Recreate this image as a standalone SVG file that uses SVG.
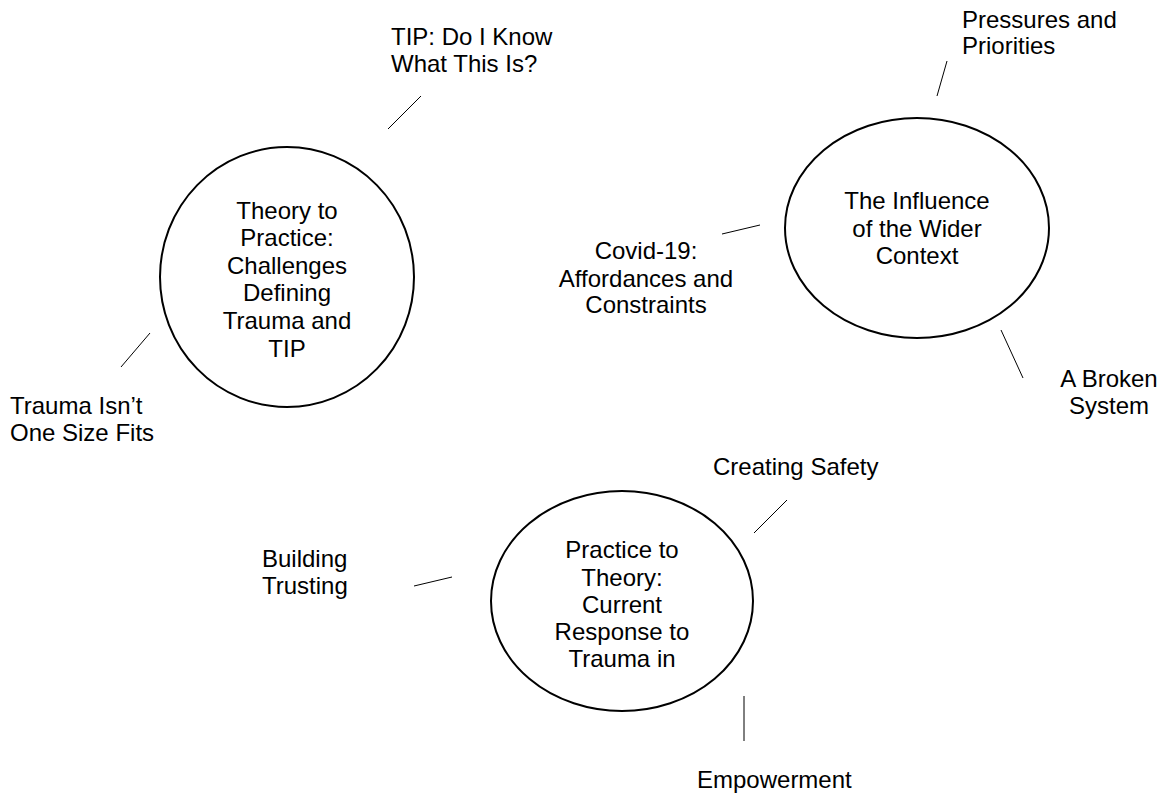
<svg xmlns="http://www.w3.org/2000/svg" width="1165" height="799" viewBox="0 0 1165 799">
  <style>
    .node { fill: #ffffff; stroke: #000000; stroke-width: 2; }
    .conn { stroke: #000000; stroke-width: 1; fill: none; }
    text { font-family: "Liberation Sans", Arial, sans-serif; font-size: 24px; fill: #000000; }
    .mid { text-anchor: middle; }
  </style>
  <rect width="1165" height="799" fill="#ffffff"/>

  <!-- short spokes between each theme and its sub-themes -->
  <g id="connectors">
    <line class="conn" x1="421" y1="96" x2="388" y2="129"/>
    <line class="conn" x1="150" y1="333" x2="121" y2="367"/>
    <line class="conn" x1="947" y1="61" x2="937" y2="96"/>
    <line class="conn" x1="760" y1="225" x2="722" y2="234"/>
    <line class="conn" x1="1001" y1="330" x2="1023" y2="378"/>
    <line class="conn" x1="787" y1="500" x2="754" y2="533"/>
    <line class="conn" x1="452" y1="577" x2="414" y2="586"/>
    <line class="conn" x1="744" y1="696" x2="744" y2="741"/>
  </g>

  <!-- main themes -->
  <g id="theme-theory-to-practice">
    <ellipse class="node" cx="287" cy="277" rx="127" ry="130"/>
    <text class="mid" x="287" y="219">Theory to</text>
    <text class="mid" x="287" y="246">Practice:</text>
    <text class="mid" x="287" y="274">Challenges</text>
    <text class="mid" x="287" y="301">Defining</text>
    <text class="mid" x="287" y="329">Trauma and</text>
    <text class="mid" x="287" y="357">TIP</text>
  </g>

  <g id="theme-wider-context">
    <ellipse class="node" cx="917" cy="228" rx="132" ry="110"/>
    <text class="mid" x="917" y="209">The Influence</text>
    <text class="mid" x="917" y="237">of the Wider</text>
    <text class="mid" x="917" y="264">Context</text>
  </g>

  <g id="theme-practice-to-theory">
    <ellipse class="node" cx="622" cy="601" rx="131" ry="110"/>
    <text class="mid" x="622" y="558">Practice to</text>
    <text class="mid" x="622" y="586">Theory:</text>
    <text class="mid" x="622" y="613">Current</text>
    <text class="mid" x="622" y="640">Response to</text>
    <text class="mid" x="622" y="667">Trauma in</text>
  </g>

  <!-- sub-themes -->
  <g id="sub-tip-know">
    <text x="391" y="45">TIP: Do I Know</text>
    <text x="391" y="72">What This Is?</text>
  </g>
  <g id="sub-one-size">
    <text x="10" y="414">Trauma Isn’t</text>
    <text x="10" y="441">One Size Fits</text>
  </g>
  <g id="sub-pressures">
    <text x="962" y="28">Pressures and</text>
    <text x="962" y="54">Priorities</text>
  </g>
  <g id="sub-covid">
    <text class="mid" x="646" y="259">Covid-19:</text>
    <text class="mid" x="646" y="287">Affordances and</text>
    <text class="mid" x="646" y="313">Constraints</text>
  </g>
  <g id="sub-broken-system">
    <text class="mid" x="1109" y="387">A Broken</text>
    <text class="mid" x="1109" y="414">System</text>
  </g>
  <g id="sub-safety">
    <text x="713" y="475">Creating Safety</text>
  </g>
  <g id="sub-trusting">
    <text x="262" y="567">Building</text>
    <text x="262" y="594">Trusting</text>
  </g>
  <g id="sub-empowerment">
    <text x="697" y="788">Empowerment</text>
  </g>
</svg>
